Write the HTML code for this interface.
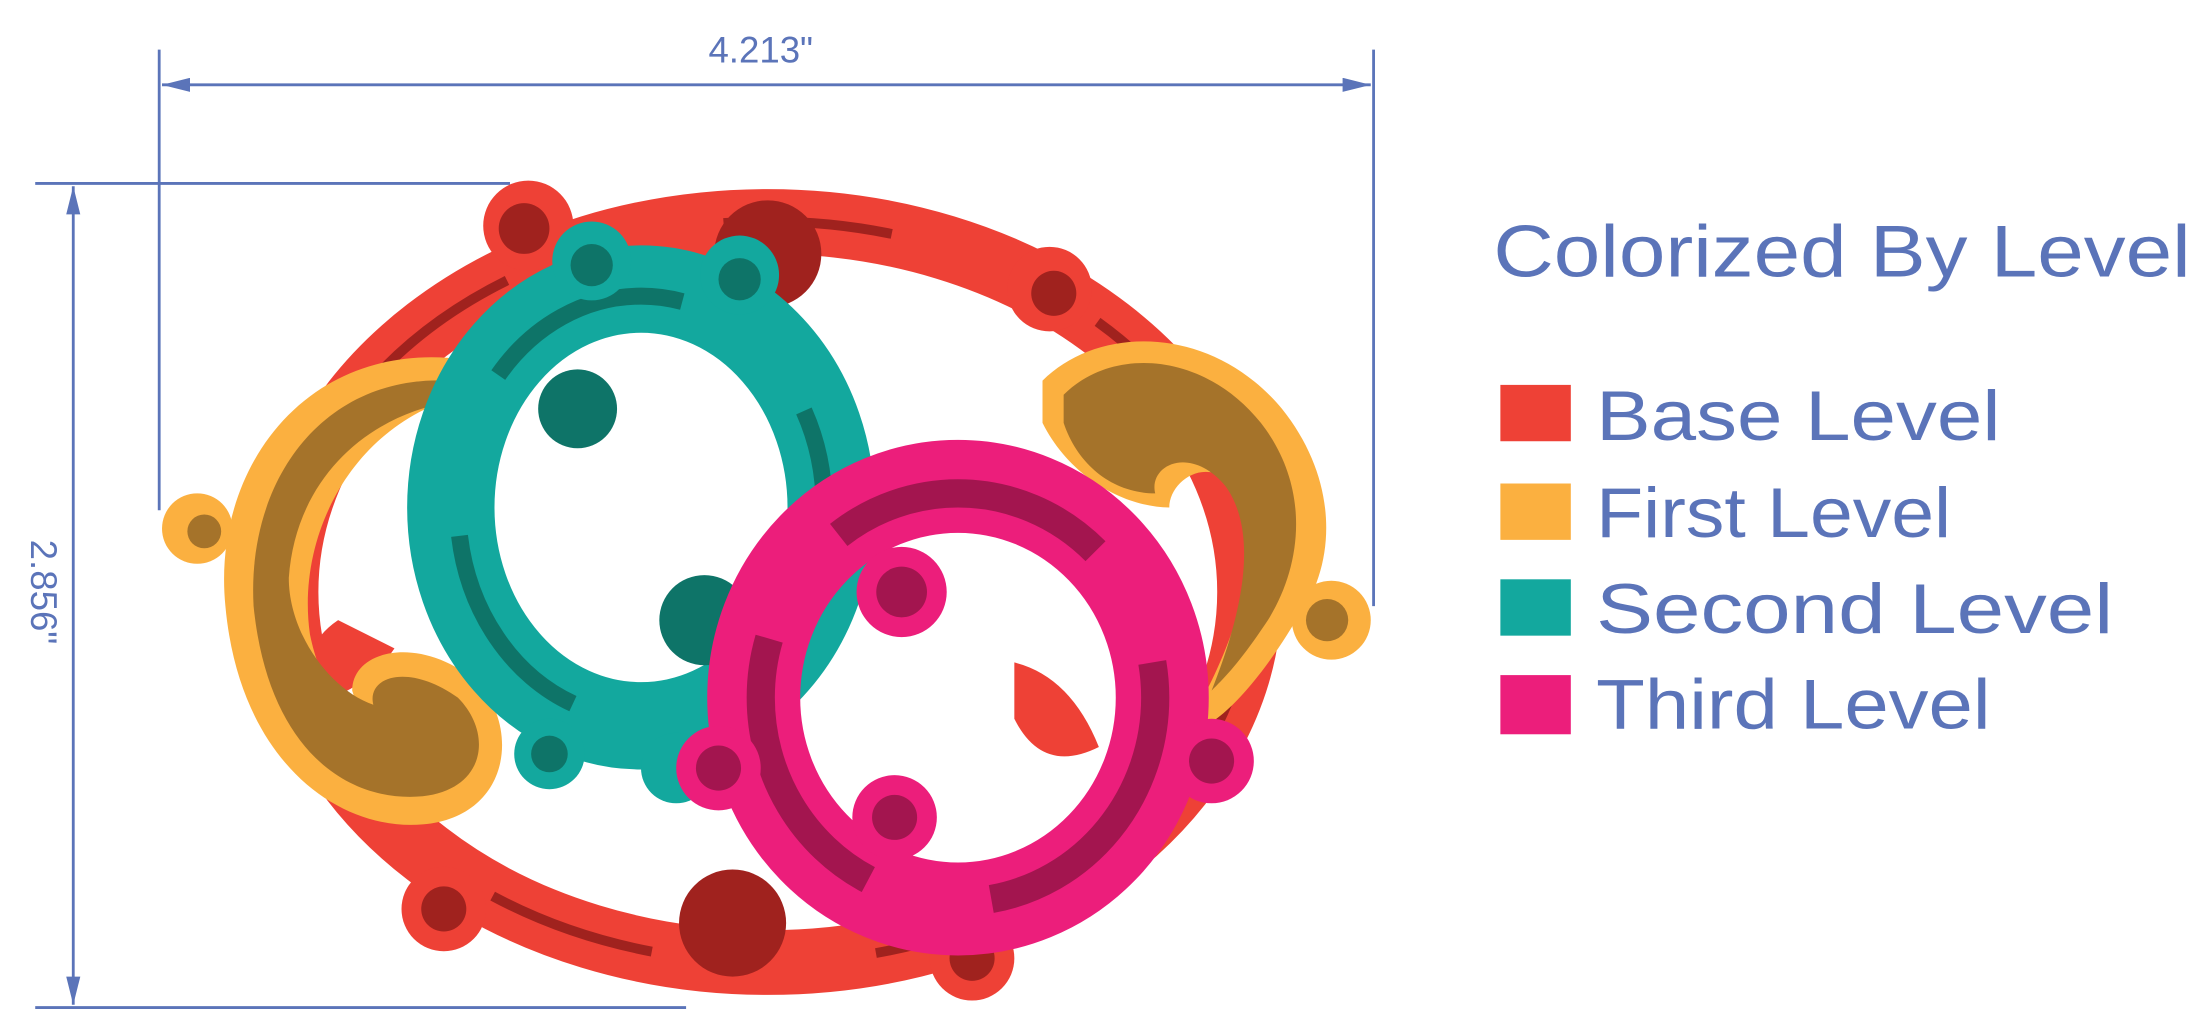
<!DOCTYPE html>
<html><head><meta charset="utf-8"><style>
html,body{margin:0;padding:0;background:#fff;}
svg{display:block;}
text{font-family:"Liberation Sans",sans-serif;fill:#5B74B9;}
</style></head><body>
<svg width="2209" height="1029" viewBox="0 0 1568 730">
<defs>
<marker id="ar" viewBox="0 0 20 10" refX="20" refY="5" markerWidth="20" markerHeight="10" orient="auto-start-reverse" markerUnits="userSpaceOnUse"><path d="M0,0 L20,5 L0,10 z" fill="#5B74B9"/></marker>
</defs>
<g stroke="#5B74B9" stroke-width="2" fill="none">
<line x1="113" y1="35" x2="113" y2="362"/>
<line x1="975" y1="35" x2="975" y2="430"/>
<line x1="115" y1="60" x2="973" y2="60" marker-start="url(#ar)" marker-end="url(#ar)"/>
</g>
<text x="540" y="44" font-size="26" text-anchor="middle">4.213"</text>
<g stroke="#5B74B9" stroke-width="2" fill="none">
<line x1="25" y1="130" x2="362" y2="130"/>
<line x1="25" y1="715" x2="487" y2="715"/>
<line x1="52" y1="132" x2="52" y2="713" marker-start="url(#ar)" marker-end="url(#ar)"/>
</g>
<text transform="translate(22,420) rotate(90)" font-size="26" text-anchor="middle">2.856"</text>

<g>
<ellipse cx="545" cy="420" rx="342" ry="263" fill="none" stroke="#EE4136" stroke-width="46"/>
<ellipse cx="545" cy="420" rx="342" ry="263" fill="none" stroke="#A0221E" stroke-width="7" stroke-dasharray="120 160"/>
<circle cx="375" cy="160" r="32" fill="#EE4136"/><circle cx="372" cy="162" r="18" fill="#A0221E"/>
<circle cx="745" cy="205" r="30" fill="#EE4136"/><circle cx="748" cy="208" r="16" fill="#A0221E"/>
<circle cx="315" cy="645" r="30" fill="#EE4136"/><circle cx="315" cy="645" r="16" fill="#A0221E"/>
<circle cx="690" cy="680" r="30" fill="#EE4136"/><circle cx="690" cy="680" r="16" fill="#A0221E"/>
<circle cx="520" cy="655" r="38" fill="#A0221E"/>
<circle cx="545" cy="180" r="38" fill="#A0221E"/>
<path d="M720,470 q40,10 60,60 q-40,20 -60,-20 z" fill="#EE4136"/>
<path d="M240,440 q-30,20 -20,60 q40,-10 60,-40 z" fill="#EE4136"/>
</g>
<g>
<path d="M330,255 C220,240 150,330 160,430 C170,540 240,590 300,585 C360,580 370,520 340,485 C300,450 250,460 250,490 C260,520 230,500 220,450 C210,380 250,300 330,280 Z" fill="#FBB040"/>
<path d="M320,270 C230,265 175,340 180,430 C190,530 245,570 300,565 C345,560 350,520 325,495 C290,470 260,480 265,500 C235,490 205,450 205,410 C210,340 260,295 320,285 Z" fill="#A5732A"/>
<circle cx="140" cy="375" r="25" fill="#FBB040"/><circle cx="145" cy="377" r="12" fill="#A5732A"/>
</g>
<g>
<path d="M740,270 C780,230 860,230 910,290 C950,340 950,400 920,440 C890,490 860,520 840,520 C870,470 900,400 880,350 C860,320 830,340 830,360 C800,360 760,340 740,300 Z" fill="#FBB040"/>
<path d="M755,280 C790,245 855,250 895,300 C930,345 925,400 900,440 C880,470 870,480 860,490 C880,440 895,380 870,345 C845,315 815,330 820,350 C790,350 765,330 755,300 Z" fill="#A5732A"/>
<circle cx="945" cy="440" r="28" fill="#FBB040"/><circle cx="942" cy="440" r="15" fill="#A5732A"/>
</g>
<g>
<ellipse cx="455" cy="360" rx="135" ry="155" fill="none" stroke="#13A89E" stroke-width="62"/>
<ellipse cx="455" cy="360" rx="130" ry="150" fill="none" stroke="#0E7468" stroke-width="12" stroke-dasharray="150 120"/>
<circle cx="420" cy="185" r="28" fill="#13A89E"/><circle cx="420" cy="188" r="15" fill="#0E7468"/>
<circle cx="525" cy="195" r="28" fill="#13A89E"/><circle cx="525" cy="198" r="15" fill="#0E7468"/>
<circle cx="410" cy="290" r="28" fill="#0E7468"/>
<circle cx="500" cy="440" r="32" fill="#0E7468"/>
<circle cx="390" cy="535" r="25" fill="#13A89E"/><circle cx="390" cy="535" r="13" fill="#0E7468"/>
<circle cx="480" cy="545" r="25" fill="#13A89E"/>
</g>
<g>
<ellipse cx="680" cy="495" rx="145" ry="150" fill="none" stroke="#EC1E7B" stroke-width="66"/>
<ellipse cx="680" cy="495" rx="140" ry="145" fill="none" stroke="#A3154F" stroke-width="20" stroke-dasharray="200 90"/>
<circle cx="640" cy="420" r="32" fill="#EC1E7B"/><circle cx="640" cy="420" r="18" fill="#A3154F"/>
<circle cx="635" cy="580" r="30" fill="#EC1E7B"/><circle cx="635" cy="580" r="16" fill="#A3154F"/>
<circle cx="510" cy="545" r="30" fill="#EC1E7B"/><circle cx="510" cy="545" r="16" fill="#A3154F"/>
<circle cx="860" cy="540" r="30" fill="#EC1E7B"/><circle cx="860" cy="540" r="16" fill="#A3154F"/>
</g>

<text x="1060" y="196" font-size="52" textLength="495" lengthAdjust="spacingAndGlyphs">Colorized By Level</text>
<g><rect x="1065" y="273" width="50" height="40" fill="#EE4136"/><text x="1133" y="312" font-size="50" textLength="287" lengthAdjust="spacingAndGlyphs">Base Level</text></g>
<g><rect x="1065" y="343" width="50" height="40" fill="#FBB040"/><text x="1133" y="381" font-size="50" textLength="252" lengthAdjust="spacingAndGlyphs">First Level</text></g>
<g><rect x="1065" y="411" width="50" height="40" fill="#13A89E"/><text x="1133" y="449" font-size="50" textLength="367" lengthAdjust="spacingAndGlyphs">Second Level</text></g>
<g><rect x="1065" y="479" width="50" height="42" fill="#EC1E7B"/><text x="1133" y="517" font-size="50" textLength="280" lengthAdjust="spacingAndGlyphs">Third Level</text></g>
</svg>
</body></html>
